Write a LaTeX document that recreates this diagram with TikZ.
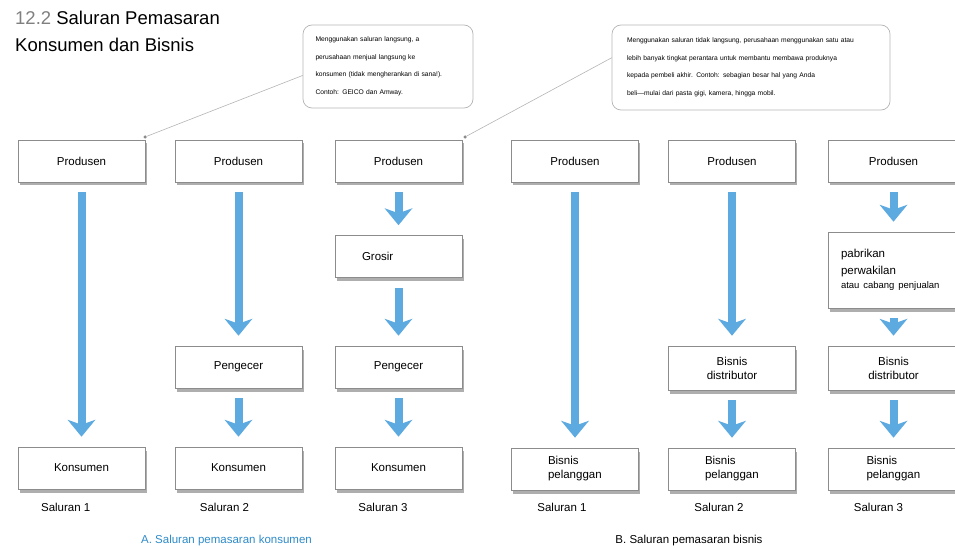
\documentclass[tikz,border=0pt]{standalone}
\usepackage{fontspec}
\setmainfont{Liberation Sans}
\usepackage{tikz}
\usetikzlibrary{arrows.meta,positioning,shadows}
\definecolor{spbiru}{HTML}{5DAAE1}
\definecolor{spgaris}{HTML}{8C8C8C}
\definecolor{spabu}{HTML}{B4B4B4}
\definecolor{spjudul}{HTML}{2E8BC9}

\begin{document}
\begin{tikzpicture}[x=1pt,y=-1pt,
  kotak/.style={draw=spgaris,fill=white,line width=0.6pt,minimum width=127pt,minimum height=42pt,align=center,font=\fontsize{11.5}{14}\selectfont,inner sep=2pt,drop shadow={shadow xshift=1.5pt,shadow yshift=-3.5pt,fill=black!70,opacity=.45}},
  kanan/.style={minimum width=131pt},
  catatan/.style={draw=spabu,rounded corners=9pt,line width=0.7pt,align=left,font=\fontsize{6.7}{17.5}\selectfont},
  panah/.style={draw=spbiru,line width=8pt,-{Stealth[length=17pt,width=28pt,inset=5pt,line width=0pt]},shorten <=10pt,shorten >=10pt},
  ket/.style={font=\fontsize{11.5}{14}\selectfont},
  titik/.style={circle,fill=spgaris,inner sep=0pt,minimum size=3.5pt},
  garis/.style={draw=spabu,line width=0.6pt}]
  \clip (0,0) rectangle (955,548);
  % judul
  \node[anchor=base west,inner sep=0pt,font=\fontsize{18.5}{22}\selectfont] (judul1) at (15,25) {\textcolor{gray}{12.2} Saluran Pemasaran};
  \node[anchor=base west,inner sep=0pt,font=\fontsize{18.5}{22}\selectfont] (judul2) at (15,52) {Konsumen dan Bisnis};
  % catatan
  \node[catatan,minimum width=170pt,minimum height=83pt,text width=145pt] (cat1) at (388,66.5) {Menggunakan saluran langsung, a\\perusahaan menjual langsung ke\\konsumen (tidak mengherankan di sana!).\\Contoh: GEICO dan Amway.};
  \node[catatan,minimum width=278pt,minimum height=85pt,text width=248pt] (cat2) at (751,67.5) {Menggunakan saluran tidak langsung, perusahaan menggunakan satu atau\\lebih banyak tingkat perantara untuk membantu membawa produknya\\kepada pembeli akhir. Contoh: sebagian besar hal yang Anda\\beli---mulai dari pasta gigi, kamera, hingga mobil.};
  \node[titik] (t1) at (145,137) {};
  \node[titik] (t2) at (465,137) {};
  \draw[garis] (cat1.186) -- (t1);
  \draw[garis] (cat2.176) -- (t2);
  % saluran konsumen
  \node[kotak] (p1) at (81.5,161) {Produsen};
  \node[kotak] (p2) at (238.5,161) {Produsen};
  \node[kotak] (p3) at (398.5,161) {Produsen};
  \node[kotak,text width=73pt,align=left] (g3) at (398.5,256.5) {Grosir};
  \node[kotak] (e2) at (238.5,367) {Pengecer};
  \node[kotak] (e3) at (398.5,367) {Pengecer};
  \node[kotak] (k1) at (81.5,468) {Konsumen};
  \node[kotak] (k2) at (238.5,468) {Konsumen};
  \node[kotak] (k3) at (398.5,468) {Konsumen};
  % saluran bisnis
  \node[kotak] (p4) at (575,161) {Produsen};
  \node[kotak] (p5) at (732,161) {Produsen};
  \node[kotak,kanan] (p6) at (893.5,161) {Produsen};
  \node[kotak,kanan,minimum height=76pt,text width=105pt,align=left] (w6) at (893.5,270) {pabrikan\\[3pt]perwakilan\\\fontsize{9.5}{11}\selectfont atau cabang penjualan};
  \node[kotak,minimum height=44pt] (d5) at (732,368) {Bisnis\\distributor};
  \node[kotak,kanan,minimum height=44pt] (d6) at (893.5,368) {Bisnis\\distributor};
  \node[kotak,text width=54pt,align=left] (b4) at (575,469) {Bisnis\\pelanggan};
  \node[kotak,text width=54pt,align=left] (b5) at (732,469) {Bisnis\\pelanggan};
  \node[kotak,kanan,text width=54pt,align=left] (b6) at (893.5,469) {Bisnis\\pelanggan};
  % panah
  \draw[panah] (p1) -- (k1);
  \draw[panah] (p2) -- (e2); \draw[panah] (e2) -- (k2);
  \draw[panah] (p3) -- (g3); \draw[panah] (g3) -- (e3); \draw[panah] (e3) -- (k3);
  \draw[panah] (p4) -- (b4);
  \draw[panah] (p5) -- (d5); \draw[panah] (d5) -- (b5);
  \draw[panah] (p6) -- (w6); \draw[panah] (w6) -- (d6); \draw[panah] (d6) -- (b6);
  % keterangan
  \node[ket] (s1) at (65.7,507) {Saluran 1};
  \node[ket] (s2) at (224.5,507) {Saluran 2};
  \node[ket] (s3) at (383,507) {Saluran 3};
  \node[ket] (s4) at (562,507) {Saluran 1};
  \node[ket] (s5) at (719,507) {Saluran 2};
  \node[ket] (s6) at (878.5,507) {Saluran 3};
  \node[ket,text=spjudul] (capA) at (226.5,541) {A. Saluran pemasaran konsumen};
  \node[ket] (capB) at (689,541) {B. Saluran pemasaran bisnis};
\end{tikzpicture}
\end{document}
